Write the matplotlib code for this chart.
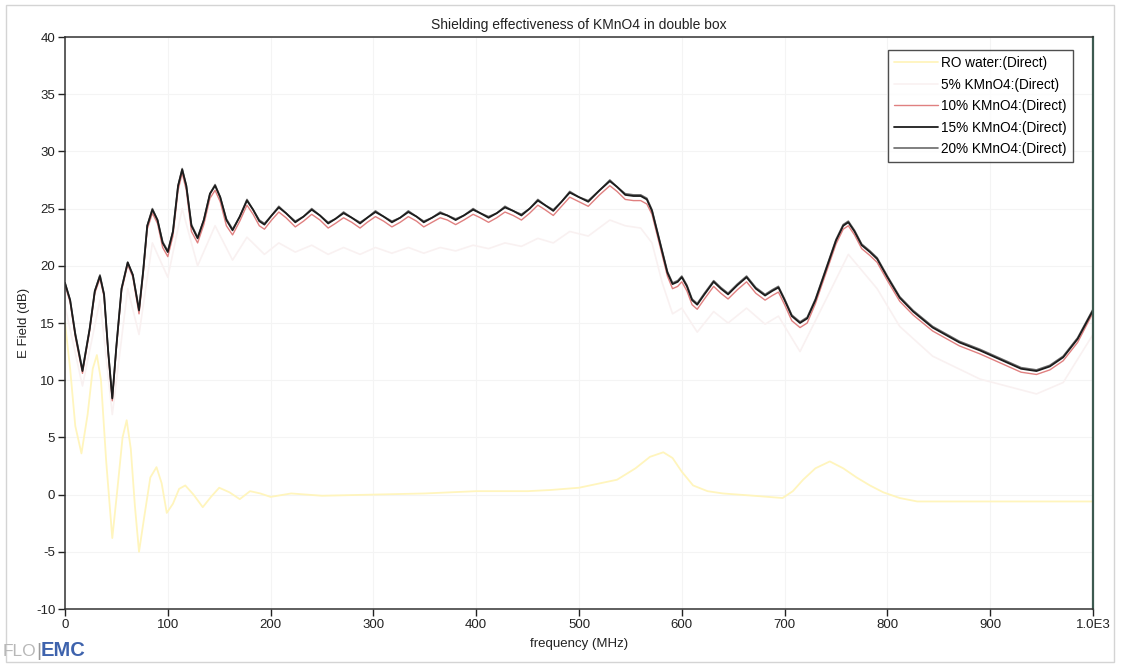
import matplotlib
matplotlib.use("Agg")
import matplotlib.pyplot as plt
from matplotlib.patches import Rectangle

plt.rcParams['font.family'] = ['Liberation Sans', 'DejaVu Sans']
plt.rcParams['axes.unicode_minus'] = False

# ---------------- data ----------------
title = "Shielding effectiveness of KMnO4 in double box"
x_label = "frequency (MHz)"
y_label = "E Field (dB)"
series_names = ["RO water:(Direct)", "5% KMnO4:(Direct)", "10% KMnO4:(Direct)",
                "15% KMnO4:(Direct)", "20% KMnO4:(Direct)"]
x_ticks = [0, 100, 200, 300, 400, 500, 600, 700, 800, 900, 1000]
x_tick_labels = ["0", "100", "200", "300", "400", "500", "600", "700", "800", "900", "1.0E3"]
y_ticks = [-10, -5, 0, 5, 10, 15, 20, 25, 30, 35, 40]

freq = [0, 5, 10, 17, 24, 29, 34, 38, 42, 46,
        50, 55, 61, 66, 72, 76, 80, 85, 90, 95,
        100, 105, 110, 114, 118, 123, 129, 135, 141, 146,
        151, 157, 163, 170, 177, 183, 189, 194, 201, 208,
        215, 224, 232, 240, 248, 256, 263, 271, 279, 287,
        294, 302, 310, 318, 326, 334, 342, 349, 357, 365,
        372, 380, 388, 397, 404, 412, 420, 428, 436, 444,
        452, 460, 467, 475, 483, 491, 500, 509, 520, 530,
        537, 545, 553, 560, 566, 571, 576, 581, 586, 591,
        596, 600, 605, 610, 615, 622, 631, 638, 645, 654,
        663, 672, 681, 688, 694, 700, 707, 715, 722, 730,
        740, 750, 757, 762, 768, 775, 783, 790, 800, 812,
        825, 844, 870, 890, 910, 930, 945, 958, 971, 985,
        1000]

kmno4_15 = [18.5, 17.0, 14.0, 10.8, 14.5, 17.8, 19.1, 17.5, 12.5, 8.4,
            13.0, 18.0, 20.3, 19.2, 16.1, 19.5, 23.5, 24.9, 24.0, 22.0,
            21.2, 23.0, 27.0, 28.4, 27.0, 23.5, 22.4, 24.0, 26.3, 27.0,
            26.0, 24.0, 23.1, 24.3, 25.7, 24.9, 23.9, 23.6, 24.4, 25.1,
            24.6, 23.8, 24.3, 24.9, 24.4, 23.7, 24.1, 24.6, 24.2, 23.7,
            24.2, 24.7, 24.3, 23.8, 24.2, 24.7, 24.3, 23.8, 24.2, 24.6,
            24.4, 24.0, 24.4, 24.9, 24.6, 24.2, 24.6, 25.1, 24.8, 24.4,
            25.0, 25.7, 25.3, 24.8, 25.6, 26.4, 26.0, 25.6, 26.6, 27.4,
            26.9, 26.2, 26.1, 26.1, 25.8, 24.8, 23.0, 21.2, 19.4, 18.4,
            18.6, 19.0, 18.2, 17.0, 16.6, 17.5, 18.6, 18.0, 17.5, 18.3,
            19.0, 18.0, 17.4, 17.8, 18.1, 17.0, 15.6, 15.0, 15.4, 17.0,
            19.6, 22.2, 23.5, 23.8, 23.0, 21.8, 21.2, 20.6, 19.0, 17.2,
            16.0, 14.6, 13.3, 12.6, 11.8, 11.0, 10.8, 11.2, 12.0, 13.6,
            16.1]

kmno4_20 = [18.5, 17.0, 14.1, 10.9, 14.5, 17.8, 19.2, 17.5, 12.6, 8.5,
            13.0, 18.0, 20.3, 19.2, 16.2, 19.5, 23.5, 25.0, 24.0, 22.1,
            21.3, 23.0, 27.0, 28.5, 27.0, 23.6, 22.5, 24.0, 26.3, 27.1,
            26.0, 24.1, 23.2, 24.3, 25.8, 24.9, 24.0, 23.7, 24.4, 25.2,
            24.6, 23.9, 24.3, 25.0, 24.4, 23.8, 24.1, 24.7, 24.2, 23.8,
            24.2, 24.8, 24.3, 23.9, 24.2, 24.8, 24.3, 23.9, 24.2, 24.7,
            24.4, 24.1, 24.4, 25.0, 24.6, 24.3, 24.6, 25.2, 24.8, 24.5,
            25.0, 25.8, 25.3, 24.9, 25.6, 26.5, 26.0, 25.7, 26.6, 27.5,
            26.9, 26.3, 26.2, 26.2, 25.9, 24.9, 23.1, 21.3, 19.5, 18.5,
            18.7, 19.1, 18.3, 17.1, 16.7, 17.6, 18.7, 18.1, 17.6, 18.4,
            19.1, 18.1, 17.5, 17.9, 18.2, 17.1, 15.7, 15.1, 15.5, 17.1,
            19.7, 22.3, 23.6, 23.9, 23.1, 21.9, 21.3, 20.7, 19.1, 17.3,
            16.1, 14.7, 13.4, 12.7, 11.9, 11.1, 10.9, 11.3, 12.1, 13.7,
            16.2]

kmno4_10 = [18.3, 16.8, 13.8, 10.6, 14.3, 17.6, 18.9, 17.3, 12.3, 8.2,
            12.8, 17.8, 20.1, 19.0, 15.8, 19.2, 23.2, 24.6, 23.7, 21.6,
            20.8, 22.6, 26.6, 28.1, 26.6, 23.0, 22.0, 23.6, 25.9, 26.6,
            25.6, 23.5, 22.7, 23.9, 25.3, 24.5, 23.5, 23.2, 24.0, 24.7,
            24.2, 23.4, 23.9, 24.5, 24.0, 23.3, 23.7, 24.2, 23.8, 23.3,
            23.8, 24.3, 23.9, 23.4, 23.8, 24.3, 23.9, 23.4, 23.8, 24.2,
            24.0, 23.6, 24.0, 24.5, 24.2, 23.8, 24.2, 24.7, 24.4, 24.0,
            24.6, 25.3, 24.9, 24.4, 25.2, 26.0, 25.6, 25.2, 26.2, 27.0,
            26.5, 25.8, 25.7, 25.7, 25.4, 24.5, 22.7, 20.9, 19.1, 18.0,
            18.2, 18.6, 17.8, 16.6, 16.2, 17.1, 18.2, 17.6, 17.1, 17.9,
            18.6, 17.6, 17.0, 17.4, 17.7, 16.6, 15.2, 14.6, 15.0, 16.7,
            19.3, 21.9, 23.2, 23.5, 22.7, 21.5, 20.9, 20.3, 18.7, 16.9,
            15.7, 14.3, 13.0, 12.3, 11.5, 10.7, 10.5, 10.9, 11.7, 13.3,
            15.9]

freq_5 = [0, 17, 34, 46, 61, 72, 85, 100, 114, 129,
          146, 163, 177, 194, 208, 224, 240, 256, 271, 287,
          302, 318, 334, 349, 365, 380, 397, 412, 428, 444,
          460, 475, 491, 509, 530, 545, 560, 571, 581, 591,
          600, 615, 631, 645, 663, 681, 694, 715, 740, 762,
          790, 812, 844, 890, 945, 971, 1000]
kmno4_5 = [16.5, 9.5, 17.0, 7.0, 18.0, 14.0, 22.0, 19.0, 25.0, 20.0,
           23.5, 20.5, 22.5, 21.0, 22.0, 21.2, 21.8, 21.0, 21.6, 21.0,
           21.6, 21.1, 21.6, 21.1, 21.6, 21.3, 21.8, 21.5, 22.0, 21.7,
           22.4, 22.0, 23.0, 22.6, 24.0, 23.5, 23.3, 22.0, 18.5, 15.8,
           16.3, 14.2, 16.0, 15.0, 16.3, 14.9, 15.6, 12.5, 17.0, 21.0,
           18.0, 14.7, 12.1, 10.1, 8.8, 9.8, 14.0]

freq_ro = [0, 5, 10, 16, 22, 27, 31, 35, 40, 46,
           51, 56, 60, 64, 68, 72, 77, 83, 89, 94,
           99, 105, 111, 117, 125, 134, 142, 150, 160, 170,
           180, 190, 200, 220, 250, 300, 350, 400, 450, 472,
           500, 537, 555, 569, 582, 591, 600, 611, 625, 640,
           670, 698, 708, 718, 730, 744, 757, 770, 783, 796,
           812, 829, 877, 926, 960, 1000]
ro_water = [15.0, 11.0, 6.0, 3.6, 7.0, 11.0, 12.2, 10.0, 3.0, -3.8,
            0.5, 5.0, 6.5, 4.0, -1.0, -5.0, -2.0, 1.5, 2.4, 1.0,
            -1.6, -0.8, 0.5, 0.8, 0.0, -1.1, -0.2, 0.6, 0.2, -0.4,
            0.3, 0.1, -0.2, 0.1, -0.1, 0.0, 0.1, 0.3, 0.3, 0.4,
            0.6, 1.3, 2.3, 3.3, 3.7, 3.2, 2.0, 0.8, 0.3, 0.1,
            -0.1, -0.3, 0.3, 1.3, 2.3, 2.9, 2.3, 1.5, 0.8, 0.2,
            -0.3, -0.6, -0.6, -0.6, -0.6, -0.6]

# ---------------- figure ----------------
W, H = 1121, 666
fig = plt.figure(figsize=(W / 100, H / 100), dpi=100)
fig.patch.set_facecolor("white")
ax = fig.add_axes([65 / W, 1 - 609 / H, (1093 - 65) / W, (609 - 37) / H])

common = dict(solid_joinstyle="round", solid_capstyle="round")
l_ro, = ax.plot(freq_ro, ro_water, color="#fff5bd", lw=1.3, label=series_names[0], **common)
l_5, = ax.plot(freq_5, kmno4_5, color="#f9f1f1", lw=1.2, label=series_names[1], **common)
l_10, = ax.plot(freq, kmno4_10, color="#e08080", lw=1.0, label=series_names[2], **common)
l_20, = ax.plot(freq, kmno4_20, color="#6a6a6a", lw=1.2, label=series_names[4], **common)
l_15, = ax.plot(freq, kmno4_15, color="#1c1c1c", lw=1.3, label=series_names[3], **common)

ax.set_xlim(0, 1000)
ax.set_ylim(-10, 40)
ax.set_xticks(x_ticks)
ax.set_xticklabels(x_tick_labels)
ax.set_yticks(y_ticks)
ax.tick_params(axis="both", direction="out", length=5, width=1, labelsize=9.5, pad=2, colors="#222222")
ax.grid(True, color="#f4f4f4", lw=0.8)
ax.set_axisbelow(True)
for side in ["left", "bottom", "top"]:
    ax.spines[side].set_color("#333333")
    ax.spines[side].set_linewidth(1.1)
ax.spines["right"].set_color("#3d5a50")
ax.spines["right"].set_linewidth(1.6)

ax.set_title(title, fontsize=10, pad=6, color="#222222")
ax.set_xlabel(x_label, fontsize=9.5, labelpad=5, color="#222222")
ax.set_ylabel(y_label, fontsize=9.5, labelpad=4, color="#222222")

leg = ax.legend(handles=[l_ro, l_5, l_10, l_15, l_20], loc="upper right",
                bbox_to_anchor=(1 - 20 / 1028, 1 - 13 / 572),
                frameon=True, fancybox=False, fontsize=9.8, handlelength=3.2,
                handletextpad=0.25, labelspacing=0.55, borderpad=0.45, borderaxespad=0)
leg.get_frame().set_edgecolor("#222222")
leg.get_frame().set_linewidth(1.0)

# scan border
fig.patches.append(Rectangle((6 / W, 4 / H), (1114 - 6) / W, (661 - 4) / H,
                             transform=fig.transFigure, fill=False,
                             edgecolor="#d4d4d4", lw=1.0))

# logo
fig.text(3 / W, 1 - 651 / H, "FLO", fontsize=12.5, color="#b8b8b8", va="center", ha="left")
fig.text(36 / W, 1 - 651 / H, "|", fontsize=14, color="#9a9a9a", va="center", ha="left")
fig.text(41 / W, 1 - 651 / H, "EMC", fontsize=14.5, color="#3e63ad", fontweight="bold",
         va="center", ha="left")

fig.savefig("out.png", dpi=100)
